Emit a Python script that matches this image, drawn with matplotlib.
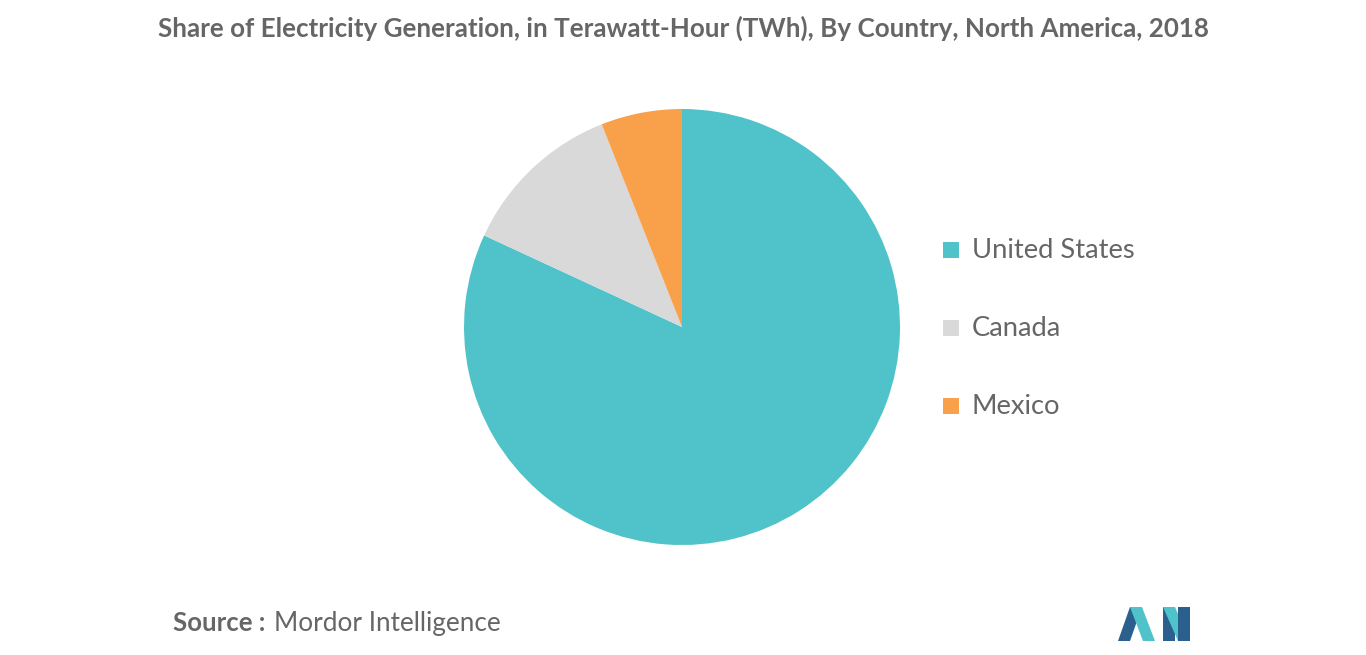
import matplotlib
matplotlib.use("Agg")
import matplotlib.pyplot as plt
from matplotlib.patches import Polygon, Rectangle

countries = ["United States", "Canada", "Mexico"]
values = [4434, 655, 325]
colors = ["#4FC3C9", "#D9D9D9", "#F9A04B"]

fig = plt.figure(figsize=(13.66, 6.55), dpi=100)
W, H = 1366, 655
ax = fig.add_axes([(682-218)/W, 1-(327+218)/H, 436/W, 436/H])
ax.pie(values, colors=colors, startangle=90, counterclock=False, radius=1,
       wedgeprops=dict(linewidth=0))
ax.set_xlim(-1, 1); ax.set_ylim(-1, 1)
ax.set_aspect("equal")
ax.axis("off")

fig.text(683/W, 1-28/H, "Share of Electricity Generation, in Terawatt-Hour (TWh), By Country, North America, 2018",
         ha="center", va="center", fontsize=18.7, color="#666666", fontfamily="Lato", fontweight="bold")

for i, (c, col) in enumerate(zip(countries, colors)):
    y = 250 + 78*i
    fig.patches.append(Rectangle((943/W, 1-(y+8)/H), 16/W, 16/H, transform=fig.transFigure,
                                 facecolor=col, edgecolor="none"))
    fig.text(972/W, 1-y/H, c, ha="left", va="center", fontsize=19.7, color="#666666", fontfamily="Lato")

fig.text(173/W, 1-623/H, "Source :", ha="left", va="center", fontsize=18.5, color="#666666",
         fontfamily="Lato", fontweight="bold")
fig.text(274/W, 1-623/H, "Mordor Intelligence", ha="left", va="center", fontsize=18.8, color="#666666",
         fontfamily="Lato")

def poly(pts, col):
    fig.patches.append(Polygon([(x/W, 1-y/H) for x, y in pts], closed=True,
                               transform=fig.transFigure, facecolor=col, edgecolor="none"))
poly([(1118, 641), (1130, 607), (1142, 607), (1130, 641)], "#2B5F8E")
poly([(1130, 607), (1142, 607), (1155, 641), (1143, 641)], "#4FC3C9")
poly([(1163, 607), (1175, 607), (1175, 641), (1163, 641)], "#2B5F8E")
poly([(1163, 607), (1175, 607), (1190, 641), (1178, 641)], "#4FC3C9")
poly([(1178, 607), (1190, 607), (1190, 641), (1178, 641)], "#2B5F8E")

fig.savefig("out.png", dpi=100, facecolor="white")
